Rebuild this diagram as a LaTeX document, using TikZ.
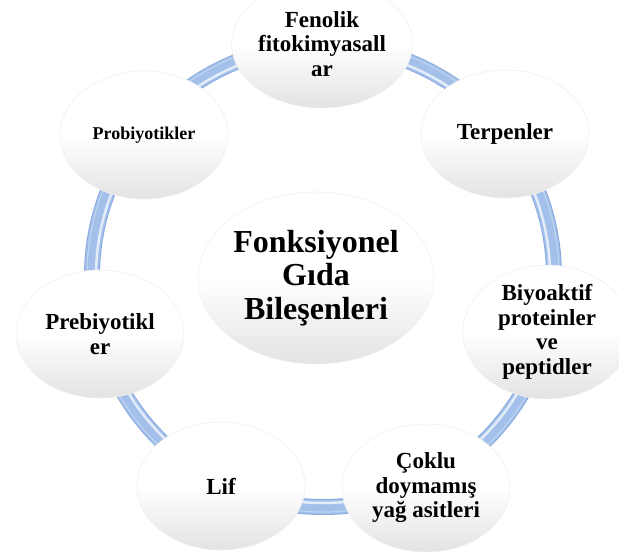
\documentclass[tikz,border=0pt]{standalone}
\usepackage{fontspec}
\setmainfont{Liberation Serif}
\usetikzlibrary{shapes.geometric}
\definecolor{ringblue}{RGB}{162,192,234}
\definecolor{ringedge}{RGB}{138,170,222}
\tikzset{
  bubble/.style={ellipse, inner sep=0pt, minimum width=168pt, minimum height=128pt,
    draw=black!6, line width=0.6pt,
    top color=white, bottom color=black!11, middle color=white,
    align=center, font=\bfseries\fontsize{23}{24.5}\selectfont},
  hub/.style={bubble, minimum width=236pt, minimum height=172pt,
    font=\bfseries\fontsize{32}{33.5}\selectfont},
  smalltext/.style={font=\bfseries\fontsize{18}{20}\selectfont}
}
\begin{document}
\begin{tikzpicture}[x=1pt,y=-1pt]
\useasboundingbox (0,0) rectangle (619,552);
% the cycle band behind the bubbles
\coordinate (ringc) at (323,276);
\draw[ringedge, line width=16pt] (ringc) circle[radius=231];
\draw[ringblue, line width=14pt] (ringc) circle[radius=231];
\draw[white, opacity=0.7, line width=2.5pt] (ringc) circle[radius=227];
\draw[white, opacity=0.3, line width=1.2pt] (ringc) circle[radius=236];
% central topic
\node[hub] (core) at (316,278) {Fonksiyonel\\Gıda\\Bileşenleri};
% surrounding components
\node[bubble] (fen)  at (322,44)  {Fenolik\\fitokimyasall\\ar};
\node[bubble] (ter)  at (505,134) {Terpenler};
\node[bubble] (bio)  at (547,332) {Biyoaktif\\proteinler\\ve\\peptidler};
\node[bubble] (cok)  at (426,488) {Çoklu\\doymamış\\yağ asitleri};
\node[bubble] (lif)  at (221,486) {Lif};
\node[bubble] (preb) at (100,334) {Prebiyotikl\\er};
\node[bubble, smalltext] (prob) at (144,135) {Probiyotikler};
\end{tikzpicture}
\end{document}
